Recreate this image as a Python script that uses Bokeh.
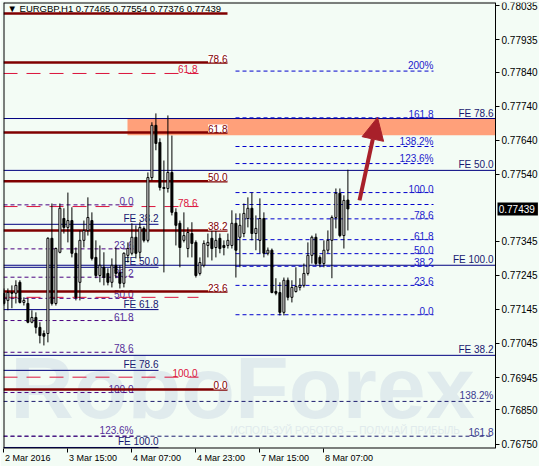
from bokeh.plotting import figure
from bokeh.models import (ColumnDataSource, FixedTicker, Range1d, LabelSet, LinearAxis,
                          Arrow, NormalHead, NumeralTickFormatter, CustomJSTickFormatter)
from bokeh.core.properties import value
from bokeh.embed import file_html
from bokeh.resources import INLINE

# ---------------- data ----------------
title_text = "\u25BC EURGBP,H1  0.77465 0.77554 0.77376 0.77439"
last_price = 0.77439

open_ = [0.77192, 0.77171, 0.77194, 0.77192, 0.77224, 0.77165, 0.77162, 0.77107, 0.77121, 0.77092,
         0.77074, 0.77074, 0.77353, 0.77162, 0.77312, 0.77411, 0.77385, 0.77405, 0.77309, 0.77224,
         0.77347, 0.77376, 0.77405, 0.77297, 0.77244, 0.77268, 0.77250, 0.77224, 0.77274, 0.77253,
         0.77221, 0.77303, 0.77309, 0.77356, 0.77312, 0.77382, 0.77347, 0.77531, 0.77684, 0.77634,
         0.77502, 0.77499, 0.77546, 0.77429, 0.77397, 0.77347, 0.77323, 0.77367, 0.77341, 0.77250,
         0.77274, 0.77332, 0.77353, 0.77326, 0.77353, 0.77332, 0.77332, 0.77332, 0.77397, 0.77356,
         0.77367, 0.77411, 0.77441, 0.77367, 0.77347, 0.77411, 0.77309, 0.77318, 0.77197, 0.77194,
         0.77136, 0.77230, 0.77180, 0.77197, 0.77209, 0.77215, 0.77250, 0.77303, 0.77356, 0.77297,
         0.77279, 0.77318, 0.77347, 0.77414, 0.77485, 0.77361, 0.77465]
high_ = [0.77206, 0.77206, 0.77215, 0.77230, 0.77230, 0.77180, 0.77177, 0.77142, 0.77136, 0.77107,
         0.77083, 0.77356, 0.77455, 0.77326, 0.77455, 0.77441, 0.77487, 0.77444, 0.77326, 0.77376,
         0.77405, 0.77473, 0.77429, 0.77347, 0.77332, 0.77312, 0.77265, 0.77294, 0.77326, 0.77274,
         0.77312, 0.77341, 0.77397, 0.77391, 0.77400, 0.77388, 0.77546, 0.77693, 0.77719, 0.77646,
         0.77581, 0.77713, 0.77654, 0.77441, 0.77405, 0.77429, 0.77385, 0.77400, 0.77347, 0.77297,
         0.77347, 0.77367, 0.77382, 0.77376, 0.77367, 0.77347, 0.77367, 0.77435, 0.77426, 0.77426,
         0.77455, 0.77473, 0.77487, 0.77420, 0.77470, 0.77429, 0.77326, 0.77323, 0.77236, 0.77224,
         0.77238, 0.77238, 0.77230, 0.77268, 0.77236, 0.77279, 0.77341, 0.77361, 0.77367, 0.77303,
         0.77347, 0.77376, 0.77420, 0.77499, 0.77499, 0.77479, 0.77554]
low_ = [0.77156, 0.77142, 0.77148, 0.77162, 0.77162, 0.77156, 0.77104, 0.77104, 0.77074, 0.77045,
        0.77039, 0.77048, 0.77156, 0.77156, 0.77309, 0.77367, 0.77341, 0.77297, 0.77171, 0.77171,
        0.77326, 0.77361, 0.77288, 0.77236, 0.77224, 0.77215, 0.77215, 0.77209, 0.77236, 0.77206,
        0.77209, 0.77282, 0.77303, 0.77294, 0.77294, 0.77341, 0.77341, 0.77523, 0.77611, 0.77493,
        0.77253, 0.77487, 0.77420, 0.77332, 0.77268, 0.77341, 0.77297, 0.77297, 0.77238, 0.77244,
        0.77268, 0.77297, 0.77288, 0.77297, 0.77309, 0.77303, 0.77323, 0.77323, 0.77238, 0.77268,
        0.77356, 0.77385, 0.77347, 0.77318, 0.77309, 0.77297, 0.77303, 0.77192, 0.77186, 0.77127,
        0.77127, 0.77171, 0.77165, 0.77194, 0.77200, 0.77209, 0.77244, 0.77279, 0.77274, 0.77268,
        0.77268, 0.77309, 0.77236, 0.77382, 0.77356, 0.77323, 0.77376]
close_ = [0.77162, 0.77194, 0.77192, 0.77215, 0.77165, 0.77171, 0.77107, 0.77121, 0.77092, 0.77068,
          0.77066, 0.77353, 0.77162, 0.77323, 0.77441, 0.77385, 0.77405, 0.77309, 0.77180, 0.77347,
          0.77376, 0.77414, 0.77294, 0.77244, 0.77274, 0.77238, 0.77224, 0.77274, 0.77250, 0.77221,
          0.77309, 0.77323, 0.77356, 0.77309, 0.77385, 0.77347, 0.77531, 0.77684, 0.77631, 0.77502,
          0.77499, 0.77546, 0.77429, 0.77391, 0.77326, 0.77361, 0.77370, 0.77338, 0.77244, 0.77282,
          0.77338, 0.77341, 0.77323, 0.77347, 0.77323, 0.77326, 0.77347, 0.77397, 0.77318, 0.77391,
          0.77426, 0.77441, 0.77367, 0.77382, 0.77411, 0.77309, 0.77318, 0.77194, 0.77192, 0.77136,
          0.77230, 0.77180, 0.77209, 0.77212, 0.77215, 0.77250, 0.77303, 0.77356, 0.77279, 0.77279,
          0.77318, 0.77347, 0.77414, 0.77485, 0.77361, 0.77464, 0.77439]

time_ticks = [0, 16, 32, 48, 64, 80]
time_labels = ["2 Mar 2016", "3 Mar 15:00", "4 Mar 07:00", "4 Mar 23:00", "7 Mar 15:00", "8 Mar 07:00"]
price_ticks = [0.78035, 0.77935, 0.77840, 0.77740, 0.77640, 0.77540, 0.77345,
               0.77245, 0.77145, 0.77045, 0.76945, 0.76850, 0.76750]

maroon_levels = [0.78012, 0.77868, 0.77663, 0.77520, 0.77376, 0.77197, 0.76910]
maroon_labels = ["", "78.6", "61.8", "50.0", "38.2", "23.6", "0.0"]
red_levels = [0.77836, 0.77446, 0.77180, 0.76946]
red_labels = ["61.8", "78.6", "", "100.0"]
purple_levels = [0.77451, 0.77322, 0.77239, 0.77177, 0.77112, 0.77019, 0.76901, 0.76773]
purple_labels = ["0.0", "23.6", "38.2", "50.0", "61.8", "78.6", "100.0", "123.6%"]
blue_levels = [0.77843, 0.77706, 0.77622, 0.77572, 0.77487, 0.77452, 0.77410,
               0.77349, 0.77308, 0.77271, 0.77215, 0.77129]
blue_labels = ["200%", "161.8", "138.2%", "123.6%", "100.0", "", "78.6",
               "61.8", "50.0", "38.2", "23.6", "0.0"]
fe_long_levels = [0.77704, 0.77552, 0.77274, 0.77010]
fe_long_labels = ["FE 78.6", "FE 50.0", "FE 100.0", "FE 38.2"]
fe_short_levels = [0.77394, 0.77268, 0.77144, 0.76966, 0.76740]
fe_short_labels = ["FE 38.2", "FE 50.0", "FE 61.8", "FE 78.6", "FE 100.0"]
navy_dash_levels = [0.76875, 0.76773]
navy_dash_labels = ["138.2%", "161.8"]
zone_top, zone_bottom = 0.77704, 0.77655
arrow_from = (88.9, 0.77464)
arrow_to = (93.4, 0.77707)

# ---------------- layout / style ----------------
BG = "#F3FCF5"
FONT = "Liberation Sans"
PX_PER_BAR = 4.0
X0, X1 = -0.1, 122.9          # chart area (4 px per bar); price scale sits at X1
XR = X0 + 536 / PX_PER_BAR    # canvas right edge (price-scale strip inside the frame)
Y0, Y1 = 0.76737, 0.78044
PRICE_PER_PX = (Y1 - Y0) / 446
MAROON_X1 = 55.9
RED_X1, RED_LX = 48.65, 48.4
PURPLE_X1 = 32.4
FE_SHORT_X1 = 38.65
BLUE_X0, BLUE_X1 = 57.9, 107.4
FULL_LX = 122.4
ZONE_X0 = 30.9
WM_X, WM_Y = 59.65, 0.76917
TAG_X, TAG_Y = 56.65, 0.76790
time_label_px = [45.5, 48.1, 48.1, 48.1, 48.1, 48.1]   # rendered widths, for left alignment

p = figure(width=539, height=466, output_backend="svg", toolbar_location=None,
           x_range=Range1d(X0, XR), y_range=Range1d(Y0, Y1),
           y_axis_location=None,
           min_border_left=3, min_border_right=0, min_border_top=2, min_border_bottom=18,
           background_fill_color=BG, border_fill_color=BG, outline_line_color=None)
p.grid.visible = False

# watermark
p.text(x=[WM_X], y=[WM_Y], text=["RoboForex"], text_font=value(FONT),
       text_font_size="88px", text_font_style="bold", text_color="#E0EBED",
       text_align="center", text_baseline="middle")
p.text(x=[TAG_X], y=[TAG_Y], text=["ИСПОЛЬЗУЙ РОБОТОВ — ПОЛУЧАЙ ПРИБЫЛЬ"],
       text_font=value(FONT), text_font_size="10px", text_color="#E0EAEC",
       text_baseline="middle")

# orange zone
p.quad(left=[ZONE_X0], right=[X1], top=[zone_top], bottom=[zone_bottom],
       fill_color="#FFA07A", line_color=None)


def hlines(levels, labels, xa, xb, color, width, dash, lx, tcolor, bg=None):
    n = len(levels)
    p.segment(x0=[xa] * n, y0=levels, x1=[xb] * n, y1=levels,
              line_color=color, line_width=width, line_dash=dash)
    xs = [lx for l in labels if l]
    ys = [lv for lv, l in zip(levels, labels) if l]
    tx = [l for l in labels if l]
    if bg is None:
        p.text(x=xs, y=ys, text=tx, text_font=value(FONT), text_font_size="10px",
               text_color=tcolor, text_align="right", text_baseline="bottom")
    else:
        src = ColumnDataSource(dict(x=xs, y=ys, t=tx))
        p.add_layout(LabelSet(x="x", y="y", text="t", source=src, text_font=value(FONT),
                              text_font_size="10px", text_color=tcolor, text_align="right",
                              text_baseline="bottom", background_fill_color=bg))


hlines(fe_long_levels, fe_long_labels, X0, X1, "#000080", 1, "solid", FULL_LX, "#191970")
hlines(navy_dash_levels, navy_dash_labels, X0, FULL_LX, "#1E1E70", 1, "4 3", FULL_LX, "#3A3A90")
hlines(fe_short_levels, fe_short_labels, X0, FE_SHORT_X1, "#000080", 1, "solid", FE_SHORT_X1, "#191970")
hlines(purple_levels, purple_labels, X0, PURPLE_X1, "#4B0082", 1, "4 3", PURPLE_X1, "#55309A")
hlines(blue_levels, blue_labels, BLUE_X0, BLUE_X1, "#0000CD", 1, "4 3", BLUE_X1, "#1A1ACC")
hlines(red_levels, red_labels, X0, RED_X1, "#DC143C", 1, "14 9", RED_LX, "#DC143C")
hlines(maroon_levels, maroon_labels, X0, MAROON_X1, "#800000", 2.5, "solid", MAROON_X1, "#800000",
       bg="white")

# title
p.text(x=[0.9], y=[0.78027], text=[title_text], text_font=value(FONT), text_font_size="9.5px",
       text_color="black", text_baseline="middle")

# candles
idx = list(range(len(open_)))
src = ColumnDataSource(dict(
    x=idx, h=high_, l=low_,
    top=[max(o, c) for o, c in zip(open_, close_)],
    bot=[min(o, c) for o, c in zip(open_, close_)],
    fill=["white" if c >= o else "black" for o, c in zip(open_, close_)]))
p.segment(x0="x", y0="l", x1="x", y1="h", line_color="black", line_width=1, source=src)
p.vbar(x="x", width=0.5, top="top", bottom="bot", fill_color="fill",
       line_color="black", line_width=1, source=src)

# chart border (left, top, bottom); the price scale line is the right edge
p.segment(x0=[X0, X0, X0], y0=[Y0, Y1, Y0], x1=[X0, X1, X1], y1=[Y1, Y1, Y0],
          line_color="black", line_width=2)

# current price marker on the price scale
p.quad(left=[X1 + 0.5], right=[X1 + 10.6], top=[last_price + 6.5 * PRICE_PER_PX],
       bottom=[last_price - 6.5 * PRICE_PER_PX], fill_color="black", line_color=None)
p.text(x=[X1 + 0.8], y=[last_price], text=["%.5f" % last_price], text_font=value(FONT),
       text_font_size="10px", text_color="white", text_baseline="middle")

# arrow
AR = "#A8202A"
p.add_layout(Arrow(end=NormalHead(size=22, fill_color=AR, line_color=AR),
                   x_start=arrow_from[0], y_start=arrow_from[1],
                   x_end=arrow_to[0], y_end=arrow_to[1],
                   line_color=AR, line_width=4))

# price axis at the right edge of the chart area
ya = LinearAxis(fixed_location=X1, ticker=FixedTicker(ticks=price_ticks),
                formatter=NumeralTickFormatter(format="0.00000"),
                major_label_text_font=FONT, major_label_text_font_size="10px",
                major_label_text_color="black", major_tick_out=4, major_tick_in=0,
                minor_tick_out=0, minor_tick_in=0, major_label_standoff=2,
                axis_line_color="black")
p.add_layout(ya, "right")

# time axis: tick marks
xa = p.xaxis[0]
xa.ticker = FixedTicker(ticks=time_ticks)
xa.major_label_overrides = {t: "" for t in time_ticks}
xa.major_label_text_font_size = "1px"
xa.major_label_standoff = 0
xa.major_tick_out = 4
xa.major_tick_in = 0
xa.minor_tick_out = 0
xa.minor_tick_in = 0
xa.axis_line_color = None

# time axis: labels starting just right of each tick (MetaTrader style)
label_pos = [t + (1 + w / 2) / PX_PER_BAR for t, w in zip(time_ticks, time_label_px)]
xl = LinearAxis(ticker=FixedTicker(ticks=label_pos),
                formatter=CustomJSTickFormatter(args=dict(labels=time_labels),
                                                code="return labels[index];"),
                major_tick_out=0, major_tick_in=0, minor_tick_out=0, minor_tick_in=0,
                axis_line_color=None, major_label_standoff=0,
                major_label_text_font=FONT, major_label_text_font_size="9px",
                major_label_text_color="black")
p.add_layout(xl, "below")

open("out.html", "w").write(file_html(p, INLINE))
